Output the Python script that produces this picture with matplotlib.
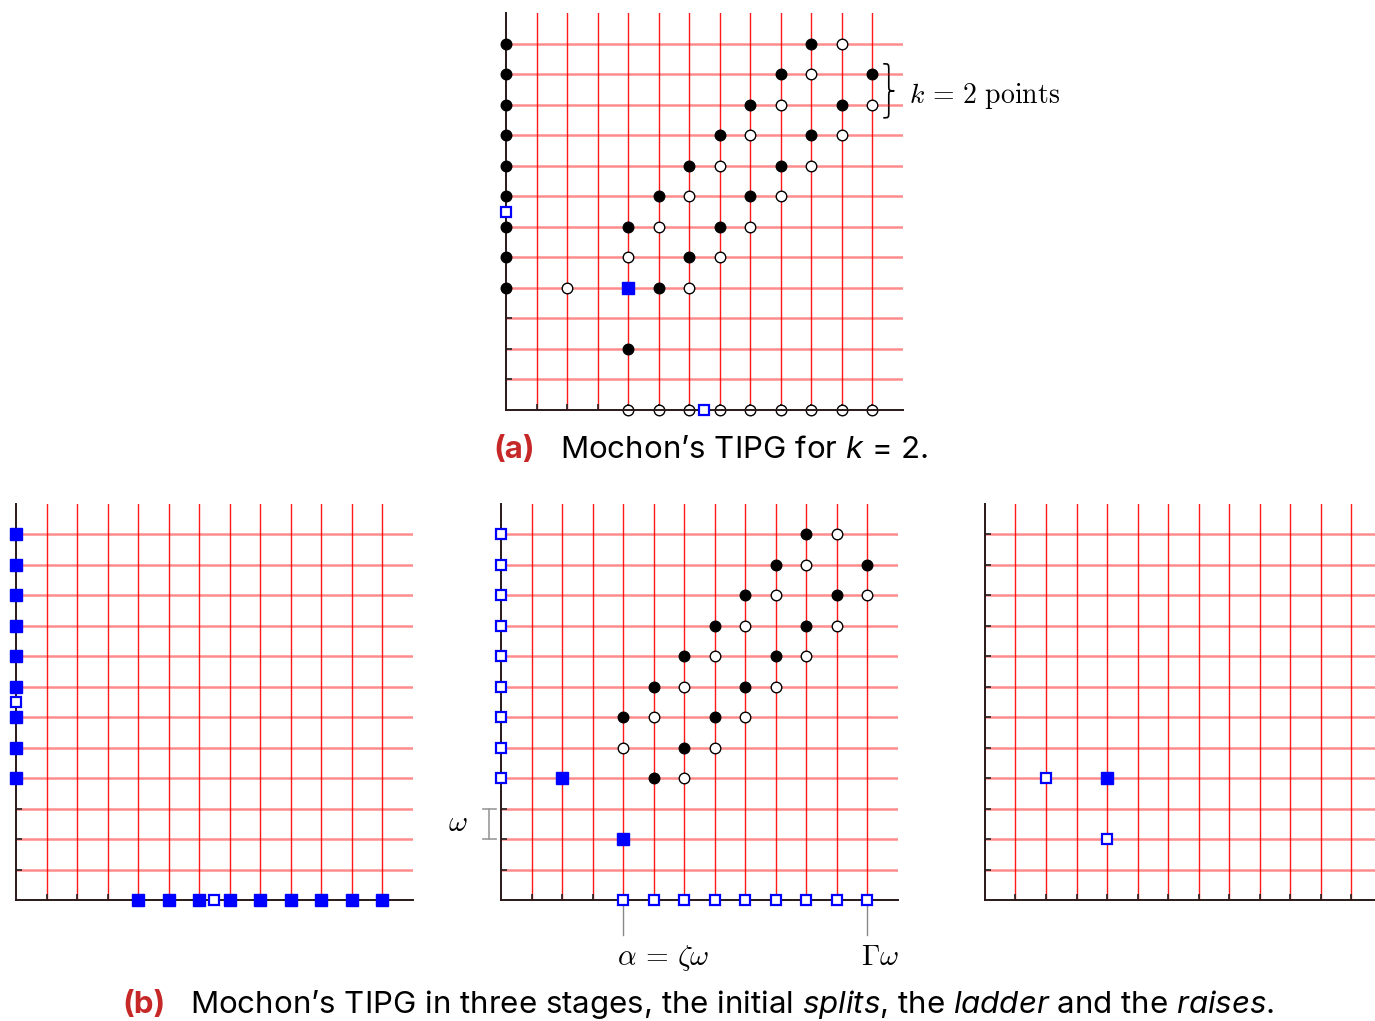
import matplotlib.pyplot as plt
from matplotlib.path import Path
from matplotlib.patches import PathPatch

plt.rcParams['font.family'] = ['Inter', 'DejaVu Sans']
plt.rcParams['mathtext.fontset'] = 'custom'
plt.rcParams['mathtext.rm'] = 'Inter'
plt.rcParams['mathtext.it'] = 'Inter:italic'

# board: 13 x 13 units, red grid lines at 1..12
SIZE = 13
grid_lines = [1, 2, 3, 4, 5, 6, 7, 8, 9, 10, 11, 12]

# points sitting on the two axes
axis_rows = [4, 5, 6, 7, 8, 9, 10, 11, 12]
axis_cols = [4, 5, 6, 7, 8, 9, 10, 11, 12]
split_mid = 6.5

# the ladder (black = filled circle, white = open circle)
ladder_black_x = [5, 6, 4, 7, 5, 8, 6, 9, 7, 10, 8, 11, 9, 12, 10]
ladder_black_y = [4, 5, 6, 6, 7, 7, 8, 8, 9, 9, 10, 10, 11, 11, 12]
ladder_white_x = [6, 4, 7, 5, 8, 6, 9, 7, 10, 8, 11, 9, 12, 10, 11]
ladder_white_y = [4, 5, 5, 6, 6, 7, 7, 8, 8, 9, 9, 10, 10, 11, 12]

# extra points of panel (a)
a_white_x, a_white_y = [2], [4]
a_black_x, a_black_y = [4], [2]
a_blue_x, a_blue_y = [4], [4]

# ladder stage blue squares
ladder_blue_x, ladder_blue_y = [2, 4], [4, 2]

# raises stage
raise_open_x, raise_open_y = [2, 4], [4, 2]
raise_fill_x, raise_fill_y = [4], [4]

BLUE = '#0000ff'
CAP_RED = '#c62828'
CAP_SIZE = 22.5


def setup(ax):
    ax.set_xlim(0, SIZE)
    ax.set_ylim(0, SIZE)
    ax.set_xticks(grid_lines)
    ax.set_yticks(grid_lines)
    ax.set_xticklabels([])
    ax.set_yticklabels([])
    ax.tick_params(direction='in', length=4, width=1.2, color='#222222')
    ax.xaxis.grid(True, color='#ff0000', lw=1.0, alpha=0.9)
    ax.yaxis.grid(True, color='#ff0000', lw=1.8, alpha=0.45)
    for s in ['top', 'right']:
        ax.spines[s].set_visible(False)
    for s in ['left', 'bottom']:
        ax.spines[s].set_color('#2a1818')
        ax.spines[s].set_linewidth(1.4)


def black_dots(ax, x, y, z=3):
    ax.plot(x, y, 'o', ls='none', ms=7.6, mfc='black', mec='black', clip_on=False, zorder=z)


def white_dots(ax, x, y, z=3):
    ax.plot(x, y, 'o', ls='none', ms=7.6, mfc='white', mec='black', mew=1.0, clip_on=False, zorder=z)


def blue_fill(ax, x, y):
    ax.plot(x, y, 's', ls='none', ms=8.3, mfc=BLUE, mec=BLUE, clip_on=False, zorder=3)


def blue_open(ax, x, y):
    ax.plot(x, y, 's', ls='none', ms=7.0, mfc='white', mec=BLUE, mew=1.6, clip_on=False, zorder=3)


def brace(ax, x0, y_lo, y_hi, w):
    h = y_hi - y_lo
    ym = (y_lo + y_hi) / 2
    xm = x0 + w / 2
    q = 0.12 * h
    verts = [(x0, y_hi),
             (xm, y_hi), (xm, y_hi), (xm, y_hi - q),
             (xm, ym + q),
             (xm, ym), (xm, ym), (x0 + w, ym),
             (xm, ym), (xm, ym), (xm, ym - q),
             (xm, y_lo + q),
             (xm, y_lo), (xm, y_lo), (x0, y_lo)]
    codes = [Path.MOVETO,
             Path.CURVE4, Path.CURVE4, Path.CURVE4,
             Path.LINETO,
             Path.CURVE4, Path.CURVE4, Path.CURVE4,
             Path.CURVE4, Path.CURVE4, Path.CURVE4,
             Path.LINETO,
             Path.CURVE4, Path.CURVE4, Path.CURVE4]
    ax.add_patch(PathPatch(Path(verts, codes), fc='none', ec='black', lw=1.2, clip_on=False))


fig = plt.figure(figsize=(13.75, 10.21), dpi=100)
W, H = 1375, 1021
aw, ah = 396.5 / W, 396.5 / H

# ---- (a) Mochon's TIPG for k = 2
ax_a = fig.add_axes([506 / W, 1 - 410 / H, aw, ah])
setup(ax_a)
black_dots(ax_a, [0] * len(axis_rows), axis_rows)
white_dots(ax_a, axis_cols, [0] * len(axis_cols), z=2.2)
blue_open(ax_a, [0], [split_mid])
blue_open(ax_a, [split_mid], [0])
black_dots(ax_a, ladder_black_x, ladder_black_y)
white_dots(ax_a, ladder_white_x, ladder_white_y)
white_dots(ax_a, a_white_x, a_white_y)
black_dots(ax_a, a_black_x, a_black_y)
blue_fill(ax_a, a_blue_x, a_blue_y)
brace(ax_a, 12.37, 9.58, 11.35, 0.36)
ax_a.text(13.2, 10.07, r'$k\,=\,2\ \mathrm{points}$', math_fontfamily='cm',
          fontsize=20, ha='left', va='baseline', clip_on=False)

fig.text(493 / W, 1 - 458 / H, '(a)', color=CAP_RED, fontweight='bold',
         fontsize=CAP_SIZE, ha='left', va='baseline')
fig.text(560 / W, 1 - 458 / H, r'Mochon’s TIPG for $k$ = 2.', fontsize=CAP_SIZE,
         ha='left', va='baseline', math_fontfamily='custom')

# ---- (b) three stages
ax_s = fig.add_axes([16 / W, 1 - 900 / H, aw, ah])
setup(ax_s)
blue_fill(ax_s, [0] * len(axis_rows), axis_rows)
blue_fill(ax_s, axis_cols, [0] * len(axis_cols))
blue_open(ax_s, [0], [split_mid])
blue_open(ax_s, [split_mid], [0])

ax_l = fig.add_axes([501 / W, 1 - 900 / H, aw, ah])
setup(ax_l)
blue_open(ax_l, [0] * len(axis_rows), axis_rows)
blue_open(ax_l, axis_cols, [0] * len(axis_cols))
black_dots(ax_l, ladder_black_x, ladder_black_y)
white_dots(ax_l, ladder_white_x, ladder_white_y)
blue_fill(ax_l, ladder_blue_x, ladder_blue_y)
# omega marker and the alpha / Gamma labels
ax_l.plot([-0.39, -0.39], [2, 3], color='#999999', lw=1.2, clip_on=False)
ax_l.plot([-0.6, -0.17], [3, 3], color='#999999', lw=1.2, clip_on=False)
ax_l.plot([-0.6, -0.17], [2, 2], color='#999999', lw=1.2, clip_on=False)
ax_l.text(-1.41, 2.5, r'$\omega$', math_fontfamily='cm', fontsize=21,
          ha='center', va='center', clip_on=False)
ax_l.plot([4, 4], [0, -1.15], color='#888888', lw=1.0, clip_on=False, zorder=1)
ax_l.plot([12, 12], [0, -1.15], color='#888888', lw=1.0, clip_on=False, zorder=1)
ax_l.text(5.31, -2.14, r'$\alpha\,=\,\zeta\omega$', math_fontfamily='cm', fontsize=21,
          ha='center', va='baseline', clip_on=False)
ax_l.text(12.43, -2.14, r'$\Gamma\omega$', math_fontfamily='cm', fontsize=21,
          ha='center', va='baseline', clip_on=False)

ax_r = fig.add_axes([985 / W, 1 - 900 / H, aw, ah])
setup(ax_r)
blue_open(ax_r, raise_open_x, raise_open_y)
blue_fill(ax_r, raise_fill_x, raise_fill_y)

fig.text(122 / W, 1 - 1013 / H, '(b)', color=CAP_RED, fontweight='bold',
         fontsize=CAP_SIZE, ha='left', va='baseline')
fig.text(190 / W, 1 - 1013 / H,
         r'Mochon’s TIPG in three stages, the initial $splits$, the $ladder$ and the $raises$.',
         fontsize=CAP_SIZE, ha='left', va='baseline', math_fontfamily='custom')

fig.savefig('out.png', dpi=100)
